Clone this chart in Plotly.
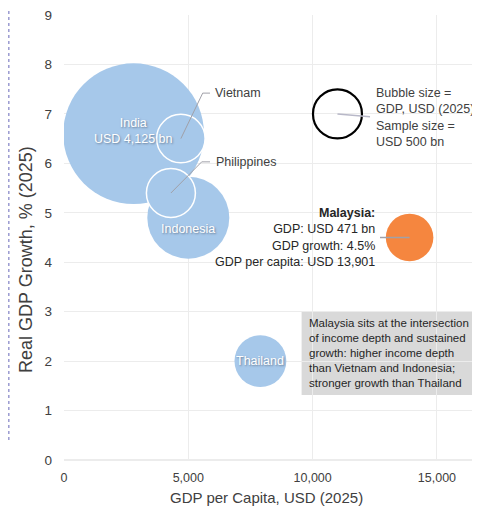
import plotly.graph_objects as go

# ---- data ----
countries = ["India", "Indonesia", "Thailand", "Vietnam", "Philippines"]
gdp_per_capita = [2800, 5000, 7900, 4700, 4300]      # USD (2025)
real_growth = [6.6, 4.9, 2.0, 6.5, 5.4]              # % (2025)
gdp_bn = [4125, 1400, 560, 490, 500]                  # USD bn (2025)

malaysia_gdp_pc = [13901]
malaysia_growth = [4.5]
malaysia_gdp = [471]

sample_gdp_pc = [11000]
sample_growth = [7.0]
sample_gdp = [500]

x_ticks = [0, 5000, 10000, 15000]
x_tick_labels = ["0", "5,000", "10,000", "15,000"]
y_ticks = list(range(0, 10))

# ---- styles ----
BLUE = "#a6c8ea"
ORANGE = "#f5863f"
TXT = "#404040"
DARK = "#262626"
GRID = "#ececec"
FONT = "Liberation Sans, Arial, sans-serif"
SIZEREF = 2 * 500 / 49 ** 2  # 500 bn -> 49 px diameter

# the page body adds an 8px offset; plot area on screen: x 64..480, y 15..460
PW, PH = 416, 445

fig = go.Figure()

outline_w = [0, 0, 0, 1.5, 1.5]
fig.add_trace(go.Scatter(
    x=gdp_per_capita, y=real_growth, mode="markers",
    marker=dict(size=gdp_bn, sizemode="area", sizeref=SIZEREF, color=BLUE,
                opacity=1, line=dict(color="white", width=outline_w)),
    hovertext=countries, showlegend=False))

fig.add_trace(go.Scatter(
    x=malaysia_gdp_pc, y=malaysia_growth, mode="markers",
    marker=dict(size=malaysia_gdp, sizemode="area", sizeref=SIZEREF, color=ORANGE,
                opacity=1, line=dict(width=0)),
    showlegend=False))

fig.add_trace(go.Scatter(
    x=sample_gdp_pc, y=sample_growth, mode="markers",
    marker=dict(size=sample_gdp, sizemode="area", sizeref=SIZEREF,
                color="rgba(255,255,255,0)", opacity=1,
                line=dict(color="black", width=2.2)),
    showlegend=False))

# leader lines (from bubble centres to labels)
LEAD = "#a0a0a8"
vx, vy = gdp_per_capita[3], real_growth[3]
px_, py_ = gdp_per_capita[4], real_growth[4]
fig.add_trace(go.Scatter(x=[vx, 5579, 5873], y=[vy, 7.42, 7.42], mode="lines",
                         line=dict(color=LEAD, width=1), showlegend=False, hoverinfo="skip"))
fig.add_trace(go.Scatter(x=[px_, 5539, 5873], y=[py_, 6.03, 6.03], mode="lines",
                         line=dict(color=LEAD, width=1), showlegend=False, hoverinfo="skip"))
fig.add_trace(go.Scatter(x=[sample_gdp_pc[0], 12309], y=[sample_growth[0], 6.94], mode="lines",
                         line=dict(color="#b8b8c8", width=1.5), showlegend=False, hoverinfo="skip"))
fig.add_trace(go.Scatter(x=[12711, malaysia_gdp_pc[0]], y=[malaysia_growth[0], malaysia_growth[0]],
                         mode="lines", line=dict(color="#a0a0a8", width=1.5),
                         showlegend=False, hoverinfo="skip"))

shadow = "1px 1px 2px #6a7f99"
anns = [
    dict(x=gdp_per_capita[0], y=real_growth[0], text=f"India<br>USD {gdp_bn[0]:,} bn",
         font=dict(color="white", size=12.5, family=FONT, shadow=shadow), yshift=3),
    dict(x=gdp_per_capita[1], y=real_growth[1], text="Indonesia",
         font=dict(color="white", size=12.5, family=FONT, shadow=shadow), yshift=-11),
    dict(x=gdp_per_capita[2], y=real_growth[2], text="Thailand",
         font=dict(color="white", size=12.5, family=FONT, shadow=shadow)),
    dict(x=5982, y=7.42, text="Vietnam", xanchor="left",
         font=dict(color=TXT, size=12.5, family=FONT)),
    dict(x=6030, y=6.03, text="Philippines", xanchor="left",
         font=dict(color=TXT, size=12.5, family=FONT)),
    dict(x=12470, y=6.93, text="Bubble size =<br>GDP, USD (2025).<br>Sample size =<br>USD 500 bn",
         xanchor="left", align="left", font=dict(color=TXT, size=12.5, family=FONT)),
    dict(x=12578, y=malaysia_growth[0], xanchor="right", align="right",
         text=(f"<b>Malaysia:</b><br>GDP: USD {malaysia_gdp[0]} bn<br>"
               f"GDP growth: {malaysia_growth[0]}%<br>GDP per capita: USD {malaysia_gdp_pc[0]:,}"),
         font=dict(color=DARK, size=12.5, family=FONT)),
    dict(x=9758, y=2.16, xanchor="left", align="left",
         text=("Malaysia sits at the intersection<br>of income depth and sustained<br>"
               "growth: higher income depth<br>than Vietnam and Indonesia;<br>"
               "stronger growth than Thailand"),
         font=dict(color=DARK, size=11.5, family=FONT)),
    # axis titles
    dict(xref="paper", yref="paper", x=(266 - 64) / PW, y=(460 - 497) / PH,
         xanchor="center", yanchor="middle", text="GDP per Capita, USD (2025)",
         font=dict(color=TXT, size=15, family=FONT)),
    dict(xref="paper", yref="paper", x=(26 - 64) / PW, y=(460 - 260) / PH,
         xanchor="center", yanchor="middle", textangle=-90, text="Real GDP Growth, % (2025)",
         font=dict(color=TXT, size=18, family=FONT)),
]
for a in anns:
    a.setdefault("showarrow", False)
    a.setdefault("xref", "x")
    a.setdefault("yref", "y")

fig.update_layout(
    width=472, height=507,
    margin=dict(l=56, r=0, t=7, b=55, autoexpand=False),
    paper_bgcolor="white", plot_bgcolor="white",
    font=dict(family=FONT, color=TXT, size=13),
    annotations=anns,
    shapes=[
        dict(type="rect", xref="x", yref="y", x0=9557, x1=16420, y0=1.316, y1=3.0,
             fillcolor="#d9d9d9", line=dict(width=0), layer="below"),
        dict(type="line", xref="paper", yref="paper", x0=-55.2 / PW, x1=-55.2 / PW,
             y0=20 / PH, y1=452 / PH, line=dict(color="#9a9ad0", width=1.5, dash="3px,3px")),
    ],
    xaxis=dict(range=[0, 16733], tickvals=x_ticks, ticktext=x_tick_labels,
               showgrid=True, gridcolor=GRID, gridwidth=1, automargin=False,
               zeroline=True, zerolinecolor="rgba(255,255,255,0)",
               showline=False, ticks="", ticklabelstandoff=8, ticklabeloverflow="allow",
               tickfont=dict(size=12.5, color=TXT, family=FONT)),
    yaxis=dict(range=[0, 9], tickvals=y_ticks,
               showgrid=True, gridcolor=GRID, gridwidth=1, automargin=False,
               zeroline=True, zerolinecolor=GRID,
               showline=False, ticks="", ticklabelstandoff=11, ticklabeloverflow="allow",
               tickfont=dict(size=13.5, color=TXT, family=FONT)),
)

fig.write_html("out.html")
